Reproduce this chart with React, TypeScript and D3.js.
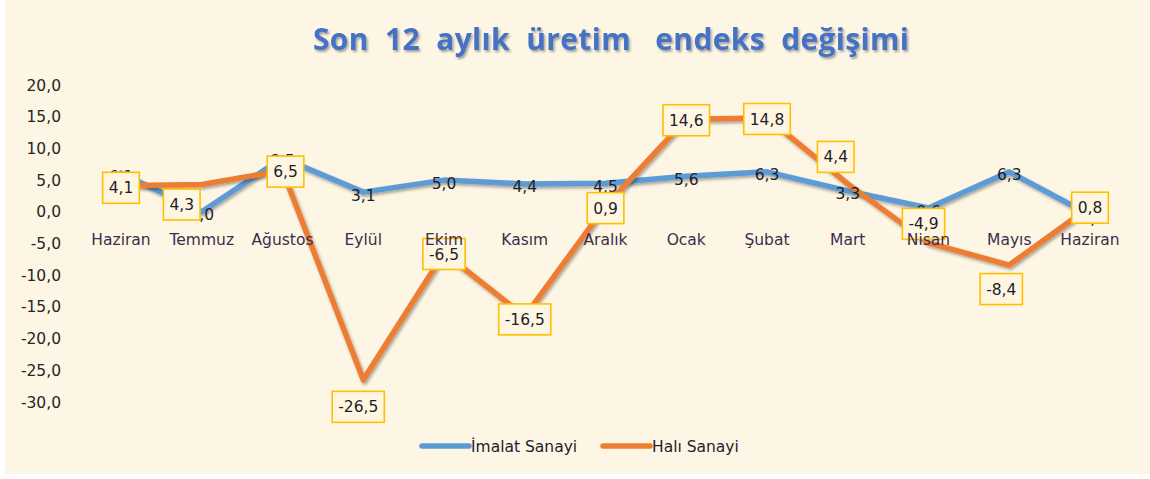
import React, { useEffect, useRef } from 'react';
import * as d3 from 'd3';

// chart data
const months = ['Haziran', 'Temmuz', 'Ağustos', 'Eylül', 'Ekim', 'Kasım', 'Aralık', 'Ocak', 'Şubat', 'Mart', 'Nisan', 'Mayıs', 'Haziran'];
const imalat = [6.1, 0.0, 8.5, 3.1, 5.0, 4.4, 4.5, 5.6, 6.3, 3.3, 0.6, 6.3, -0.5];
const hali = [4.1, 4.3, 6.5, -26.5, -6.5, -16.5, 0.9, 14.6, 14.8, 4.4, -4.9, -8.4, 0.8];
const yTicks = [20, 15, 10, 5, 0, -5, -10, -15, -20, -25, -30];
const seriesNames = ['İmalat Sanayi', 'Halı Sanayi'];
// manual nudges of the boxed labels (as in the source sheet)
const haliLabelShift: [number, number][] = [
  [0, 2], [-20, 20], [3, 1], [-5, 27], [0, 1], [0, 3], [0, 2], [0, 1], [0, 1], [-12, -27], [-5, -19], [-8, 24], [0, 1],
];

const W = 1150, H = 479;
const fmt = (v: number) => v.toFixed(1).replace('.', ',');

export default function App() {
  const ref = useRef<SVGSVGElement>(null);

  useEffect(() => {
    const svg = d3.select(ref.current);
    svg.selectAll('*').remove();

    const defs = svg.append('defs');
    const sh = defs.append('filter').attr('id', 'shadow').attr('x', '-10%').attr('y', '-10%').attr('width', '130%').attr('height', '140%');
    sh.append('feDropShadow').attr('dx', 1.5).attr('dy', 2).attr('stdDeviation', 1.4).attr('flood-color', '#000').attr('flood-opacity', 0.35);
    const tsh = defs.append('filter').attr('id', 'tshadow').attr('x', '-5%').attr('y', '-20%').attr('width', '110%').attr('height', '150%');
    tsh.append('feDropShadow').attr('dx', 1.5).attr('dy', 2).attr('stdDeviation', 1.2).attr('flood-color', '#000').attr('flood-opacity', 0.35);

    svg.append('rect').attr('x', 5).attr('y', 0).attr('width', W - 5).attr('height', 474).attr('fill', '#fef6e4');

    const font = '"DejaVu Sans", sans-serif';

    // title
    svg.append('text')
      .attr('x', 611).attr('y', 50)
      .attr('text-anchor', 'middle')
      .attr('xml:space', 'preserve')
      .attr('font-family', '"Open Sans", sans-serif')
      .attr('font-weight', 'bold')
      .attr('font-size', 30)
      .attr('fill', '#4472c4')
      .attr('textLength', 596)
      .attr('lengthAdjust', 'spacing')
      .attr('filter', 'url(#tshadow)')
      .text('Son  12  aylık  üretim   endeks  değişimi');

    const x = d3.scalePoint<number>().domain(d3.range(months.length)).range([121, 1090]);
    const y = d3.scaleLinear().domain([-30, 20]).range([402, 85]);

    // y tick labels
    svg.append('g').selectAll('text').data(yTicks).enter().append('text')
      .attr('x', 61).attr('y', d => y(d)).attr('dy', '0.36em')
      .attr('text-anchor', 'end')
      .attr('font-family', font).attr('font-size', 15.5).attr('fill', '#262626')
      .text(d => fmt(d));

    const line = d3.line<number>().x((_, i) => x(i) as number).y(d => y(d));

    svg.append('path').datum(imalat).attr('d', line).attr('fill', 'none')
      .attr('stroke', '#5b9bd5').attr('stroke-width', 5.5).attr('stroke-linejoin', 'round').attr('stroke-linecap', 'round')
      .attr('filter', 'url(#shadow)');
    svg.append('path').datum(hali).attr('d', line).attr('fill', 'none')
      .attr('stroke', '#ed7d31').attr('stroke-width', 5.5).attr('stroke-linejoin', 'round').attr('stroke-linecap', 'round')
      .attr('filter', 'url(#shadow)');

    // blue labels
    svg.append('g').selectAll('text').data(imalat).enter().append('text')
      .attr('x', (_, i) => x(i) as number).attr('y', d => y(d) + 3).attr('dy', '0.36em')
      .attr('text-anchor', 'middle')
      .attr('font-family', font).attr('font-size', 15.5).attr('fill', '#1d1d2b')
      .text(d => fmt(d));

    // orange boxed labels
    const boxes = svg.append('g').selectAll('g').data(hali).enter().append('g')
      .attr('transform', (d, i) => `translate(${(x(i) as number) + haliLabelShift[i][0]},${y(d) + haliLabelShift[i][1]})`);
    boxes.append('rect').attr('fill', '#fff6e2').attr('stroke', '#ffc000').attr('stroke-width', 1.6);
    boxes.append('text')
      .attr('text-anchor', 'middle').attr('dy', '0.36em')
      .attr('font-family', font).attr('font-size', 15.5).attr('fill', '#1d1d2b')
      .text(d => fmt(d));
    boxes.each(function () {
      const g = d3.select(this);
      const t = g.select('text').node() as SVGTextElement;
      const w = t.getComputedTextLength() + 12;
      g.select('rect').attr('x', -w / 2).attr('y', -15.5).attr('width', w).attr('height', 31);
    });

    // category labels
    svg.append('g').selectAll('text').data(months).enter().append('text')
      .attr('x', (_, i) => x(i) as number).attr('y', 245)
      .attr('text-anchor', 'middle')
      .attr('font-family', font).attr('font-size', 15.5).attr('fill', '#3b2d4d')
      .text(d => d);

    // legend
    const legendX = [422, 603];
    const colors = ['#5b9bd5', '#ed7d31'];
    const lg = svg.append('g').selectAll('g').data(seriesNames).enter().append('g')
      .attr('transform', (_, i) => `translate(${legendX[i]},446)`);
    lg.append('line').attr('x1', 0).attr('x2', 47).attr('y1', 0).attr('y2', 0)
      .attr('stroke', (_, i) => colors[i]).attr('stroke-width', 5.5).attr('stroke-linecap', 'round');
    lg.append('text').attr('x', 49).attr('dy', '0.36em')
      .attr('font-family', font).attr('font-size', 15.5).attr('fill', '#1d1d2b')
      .text(d => d);
  }, []);

  return (
    <svg ref={ref} width={W} height={H} style={{ position: 'absolute', left: 0, top: 0, background: '#fff' }} />
  );
}
